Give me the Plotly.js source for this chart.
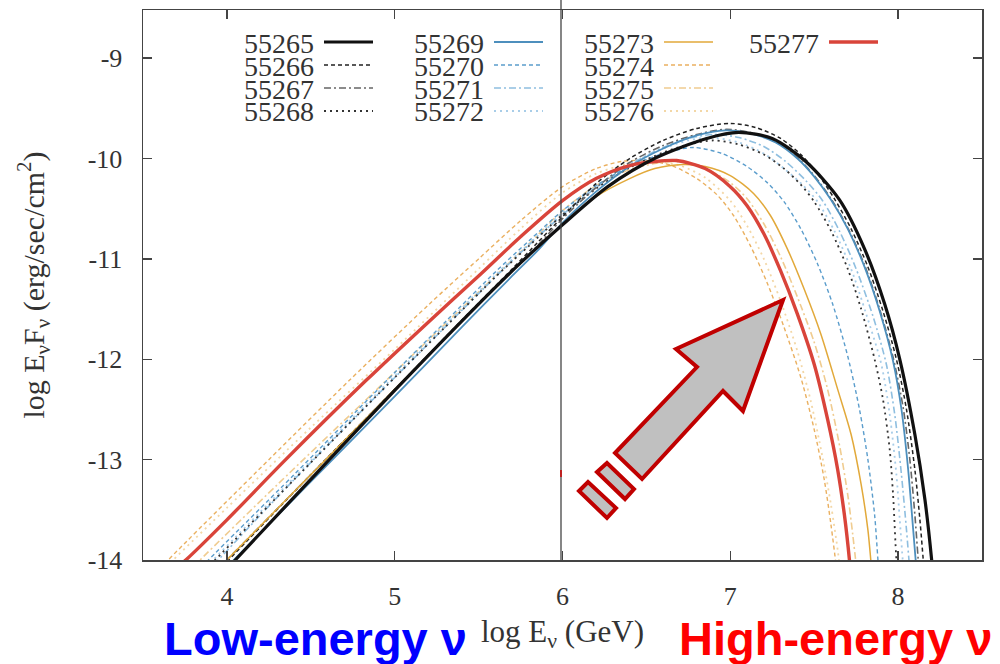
<!DOCTYPE html>
<html>
<head>
<meta charset="utf-8">
<script src="https://cdn.plot.ly/plotly-3.0.1.min.js"></script>
<style>
  html, body { margin: 0; padding: 0; background: #fff; }
  #chart { width: 1000px; height: 664px; }
</style>
</head>
<body>
<div id="chart"></div>
<script>
// Neutrino SED per observation day (MJD): log E_nu F_nu vs log E_nu
const days = ["55265", "55266", "55267", "55268", "55269", "55270", "55271",
              "55272", "55273", "55274", "55275", "55276", "55277"];

const x55265 = [4.0, 4.05, 4.61, 5.0, 5.5, 5.75, 6.0, 6.27, 6.56, 6.86, 7.05, 7.25, 7.45, 7.65, 7.8, 7.92, 8.01, 8.1, 8.16, 8.2, 8.22];
const y55265 = [-14.09, -14.0, -13.0, -12.31, -11.45, -11.04, -10.66, -10.28, -9.99, -9.8, -9.74, -9.8, -10.03, -10.41, -10.9, -11.45, -12.0, -12.75, -13.4, -14.0, -14.4];

const x55266 = [3.97, 4.5, 5.0, 5.4, 5.7, 5.85, 6.0, 6.2, 6.4, 6.6, 6.8, 7.0, 7.15, 7.3, 7.42, 7.52, 7.62, 7.72, 7.82, 7.91, 7.99, 8.05, 8.1, 8.13, 8.15, 8.17];
const y55266 = [-14.07, -13.15, -12.3, -11.61, -11.1, -10.84, -10.58, -10.25, -10.0, -9.82, -9.7, -9.65, -9.69, -9.8, -9.96, -10.15, -10.4, -10.7, -11.08, -11.52, -12.0, -12.5, -13.1, -13.6, -14.0, -14.4];

const x55267 = [3.97, 4.5, 5.0, 5.4, 5.7, 5.85, 6.0, 6.2, 6.4, 6.6, 6.8, 6.97, 7.12, 7.27, 7.4, 7.5, 7.6, 7.7, 7.8, 7.89, 7.97, 8.03, 8.07, 8.1, 8.12, 8.14];
const y55267 = [-14.05, -13.15, -12.3, -11.62, -11.12, -10.87, -10.6, -10.29, -10.04, -9.87, -9.76, -9.71, -9.74, -9.83, -9.99, -10.17, -10.4, -10.69, -11.06, -11.5, -11.98, -12.48, -13.0, -13.55, -14.0, -14.4];

const x55268 = [3.9, 4.4, 4.9, 5.3, 5.6, 5.8, 6.0, 6.2, 6.4, 6.6, 6.75, 6.9, 7.05, 7.2, 7.32, 7.42, 7.5, 7.6, 7.7, 7.78, 7.86, 7.91, 7.95, 7.97, 7.99, 8.01];
const y55268 = [-14.05, -13.2, -12.35, -11.68, -11.18, -10.87, -10.56, -10.3, -10.09, -9.94, -9.86, -9.82, -9.86, -9.96, -10.1, -10.26, -10.43, -10.72, -11.1, -11.5, -12.0, -12.4, -12.9, -13.35, -14.0, -14.4];

const x55269 = [4.0, 4.5, 5.0, 5.4, 5.7, 5.85, 6.0, 6.2, 6.4, 6.6, 6.8, 6.97, 7.12, 7.27, 7.4, 7.5, 7.6, 7.7, 7.8, 7.89, 7.97, 8.02, 8.06, 8.09, 8.11, 8.13];
const y55269 = [-14.07, -13.22, -12.37, -11.68, -11.17, -10.92, -10.64, -10.33, -10.08, -9.9, -9.77, -9.72, -9.75, -9.84, -10.0, -10.18, -10.41, -10.7, -11.08, -11.52, -12.02, -12.5, -13.1, -13.7, -14.1, -14.4];

const x55270 = [3.85, 3.89, 4.4, 4.9, 5.3, 5.6, 5.8, 6.0, 6.2, 6.4, 6.6, 6.78, 6.95, 7.1, 7.22, 7.32, 7.42, 7.52, 7.61, 7.7, 7.77, 7.82, 7.86, 7.88, 7.9];
const y55270 = [-14.07, -14.0, -13.15, -12.3, -11.63, -11.13, -10.82, -10.52, -10.27, -10.08, -9.95, -9.89, -9.95, -10.08, -10.24, -10.43, -10.7, -11.05, -11.45, -11.97, -12.5, -13.0, -13.55, -14.0, -14.4];

const x55271 = [3.92, 4.4, 4.9, 5.3, 5.6, 5.8, 6.0, 6.2, 6.4, 6.6, 6.75, 6.9, 7.05, 7.2, 7.33, 7.45, 7.55, 7.65, 7.75, 7.85, 7.93, 7.98, 8.02, 8.05, 8.07, 8.09];
const y55271 = [-14.05, -13.2, -12.35, -11.68, -11.18, -10.86, -10.56, -10.29, -10.06, -9.89, -9.8, -9.76, -9.79, -9.88, -10.03, -10.22, -10.42, -10.72, -11.1, -11.57, -12.05, -12.55, -13.15, -13.7, -14.1, -14.4];

const x55272 = [3.9, 4.4, 4.9, 5.3, 5.6, 5.8, 6.0, 6.2, 6.4, 6.6, 6.75, 6.88, 7.05, 7.2, 7.32, 7.43, 7.52, 7.62, 7.72, 7.81, 7.9, 7.95, 7.99, 8.01, 8.03, 8.05];
const y55272 = [-14.03, -13.18, -12.33, -11.66, -11.16, -10.85, -10.54, -10.28, -10.06, -9.9, -9.82, -9.79, -9.84, -9.95, -10.1, -10.26, -10.43, -10.72, -11.1, -11.55, -12.05, -12.55, -13.15, -13.6, -14.05, -14.4];

const x55273 = [3.97, 4.5, 5.0, 5.4, 5.7, 5.85, 6.0, 6.2, 6.4, 6.55, 6.72, 6.85, 7.0, 7.14, 7.24, 7.34, 7.44, 7.54, 7.64, 7.72, 7.78, 7.82, 7.84, 7.86];
const y55273 = [-14.05, -13.15, -12.3, -11.62, -11.12, -10.88, -10.66, -10.38, -10.2, -10.1, -10.06, -10.08, -10.17, -10.35, -10.57, -10.9, -11.3, -11.75, -12.3, -12.75, -13.25, -13.7, -14.05, -14.4];

const x55274 = [3.6, 3.65, 4.25, 4.73, 5.2, 5.5, 5.75, 6.0, 6.2, 6.35, 6.5, 6.65, 6.8, 6.92, 7.02, 7.12, 7.22, 7.32, 7.42, 7.5, 7.56, 7.6, 7.63, 7.65];
const y55274 = [-14.09, -14.0, -13.0, -12.21, -11.46, -11.0, -10.62, -10.28, -10.1, -10.03, -10.02, -10.07, -10.2, -10.36, -10.57, -10.87, -11.24, -11.68, -12.18, -12.7, -13.2, -13.65, -14.05, -14.4];

const x55275 = [3.8, 3.84, 4.3, 4.8, 5.3, 5.6, 5.8, 6.0, 6.2, 6.4, 6.55, 6.68, 6.85, 7.0, 7.1, 7.2, 7.3, 7.4, 7.5, 7.58, 7.65, 7.7, 7.73, 7.76];
const y55275 = [-14.07, -14.0, -13.25, -12.45, -11.65, -11.17, -10.85, -10.52, -10.27, -10.11, -10.05, -10.03, -10.1, -10.24, -10.4, -10.65, -10.98, -11.38, -11.83, -12.3, -12.85, -13.35, -13.75, -14.2];

const x55276 = [3.64, 3.68, 4.0, 4.5, 5.0, 5.5, 5.75, 6.0, 6.2, 6.4, 6.55, 6.7, 6.85, 7.0, 7.1, 7.2, 7.3, 7.4, 7.48, 7.55, 7.6, 7.64, 7.67];
const y55276 = [-14.07, -14.0, -13.48, -12.68, -11.9, -11.1, -10.7, -10.34, -10.15, -10.05, -10.03, -10.07, -10.19, -10.42, -10.67, -11.0, -11.42, -11.92, -12.42, -12.98, -13.45, -13.9, -14.3];

const x55277 = [3.72, 3.755, 4.0, 4.35, 4.83, 5.2, 5.5, 5.75, 6.0, 6.2, 6.4, 6.55, 6.68, 6.85, 7.0, 7.1, 7.2, 7.3, 7.4, 7.5, 7.58, 7.64, 7.68, 7.71, 7.73];
const y55277 = [-14.05, -14.0, -13.6, -13.0, -12.21, -11.63, -11.17, -10.78, -10.42, -10.2, -10.07, -10.03, -10.02, -10.1, -10.28, -10.47, -10.75, -11.12, -11.55, -12.05, -12.6, -13.1, -13.55, -14.0, -14.4];

const xTicks = [4, 5, 6, 7, 8];
const yTicks = [-9, -10, -11, -12, -13, -14];

// line style per day
const styles = {
  "55265": { color: "#111111", width: 3.2, dash: "solid" },
  "55266": { color: "#222222", width: 1.5, dash: "4px,3px" },
  "55267": { color: "#666666", width: 1.6, dash: "7px,3px,2px,3px" },
  "55268": { color: "#333333", width: 1.8, dash: "2px,4px" },
  "55269": { color: "#4d8fbd", width: 1.8, dash: "solid" },
  "55270": { color: "#5b9dcc", width: 1.4, dash: "4px,3px" },
  "55271": { color: "#8fbfe0", width: 1.6, dash: "7px,3px,2px,3px" },
  "55272": { color: "#a8cde8", width: 1.8, dash: "2px,4px" },
  "55273": { color: "#e2a93a", width: 1.5, dash: "solid" },
  "55274": { color: "#eab060", width: 1.4, dash: "4px,3px" },
  "55275": { color: "#f0cc90", width: 1.6, dash: "7px,3px,2px,3px" },
  "55276": { color: "#f3d7a6", width: 1.8, dash: "2px,4px" },
  "55277": { color: "#d9443a", width: 3.4, dash: "solid" }
};

const seriesX = { "55265": x55265, "55266": x55266, "55267": x55267, "55268": x55268,
  "55269": x55269, "55270": x55270, "55271": x55271, "55272": x55272, "55273": x55273,
  "55274": x55274, "55275": x55275, "55276": x55276, "55277": x55277 };
const seriesY = { "55265": y55265, "55266": y55266, "55267": y55267, "55268": y55268,
  "55269": y55269, "55270": y55270, "55271": y55271, "55272": y55272, "55273": y55273,
  "55274": y55274, "55275": y55275, "55276": y55276, "55277": y55277 };

// draw lighter lines first, heavy solid lines on top
const drawOrder = ["55276", "55275", "55274", "55272", "55271", "55270", "55268",
                   "55267", "55266", "55273", "55269", "55277", "55265"];

const traces = drawOrder.map(d => ({
  type: "scatter", mode: "lines", name: d,
  x: seriesX[d], y: seriesY[d],
  line: { color: styles[d].color, width: styles[d].width, dash: styles[d].dash,
          shape: "spline", smoothing: 0.8 },
  hoverinfo: "x+y+name", showlegend: false
}));

// pixel helpers for the page overlays (plot area 143..982 x 10..560)
const L = 143, R = 982, T = 10, B = 560;
const px = p => (p - L) / (R - L);
const py = p => (B - p) / (B - T);

const serif = "Liberation Serif";
const shapes = [];
const annotations = [];

// key in four columns: label then line sample
const keyCols = [
  { textRight: 316, lineFrom: 324, items: ["55265", "55266", "55267", "55268"] },
  { textRight: 486, lineFrom: 494, items: ["55269", "55270", "55271", "55272"] },
  { textRight: 656, lineFrom: 664, items: ["55273", "55274", "55275", "55276"] },
  { textRight: 821, lineFrom: 829, items: ["55277"] }
];
const keyRows = [42, 65, 88, 111];
keyCols.forEach(col => {
  col.items.forEach((d, i) => {
    annotations.push({
      xref: "paper", yref: "paper", x: px(col.textRight), y: py(keyRows[i] + 1),
      xanchor: "right", yanchor: "middle", showarrow: false, text: d,
      font: { family: serif, size: 28, color: "#333" }
    });
    shapes.push({
      type: "line", xref: "paper", yref: "paper",
      x0: px(col.lineFrom), x1: px(col.lineFrom + 49), y0: py(keyRows[i]), y1: py(keyRows[i]),
      line: { color: styles[d].color, width: styles[d].width, dash: styles[d].dash }
    });
  });
});

// vertical marker line near log E = 6, with its small red tick
shapes.push({
  type: "line", xref: "paper", yref: "paper",
  x0: px(561), x1: px(561), y0: 0, y1: py(0),
  line: { color: "#444", width: 1.3 }
});
shapes.push({
  type: "line", xref: "paper", yref: "paper",
  x0: px(561), x1: px(561), y0: py(477), y1: py(470),
  line: { color: "#d00000", width: 1.5 }
});

// block arrow pointing towards higher energies
const pathFrom = pts => "M " + pts.map(p => px(p[0]).toFixed(4) + "," + py(p[1]).toFixed(4)).join(" L ") + " Z";
const arrowStyle = { fillcolor: "#c0c0c0", line: { color: "#c00000", width: 4 } };
shapes.push(Object.assign({
  type: "path", xref: "paper", yref: "paper",
  path: pathFrom([[783, 300], [743, 411], [723, 391], [642, 479], [615, 453], [697, 367], [676, 349]])
}, arrowStyle));
shapes.push(Object.assign({
  type: "path", xref: "paper", yref: "paper",
  path: pathFrom([[597, 472], [607, 463], [634, 489], [625, 499]])
}, arrowStyle));
shapes.push(Object.assign({
  type: "path", xref: "paper", yref: "paper",
  path: pathFrom([[579, 491], [588, 482], [616, 508], [607, 518]])
}, arrowStyle));

// labels under the axis
annotations.push({
  xref: "paper", yref: "paper", x: px(162), y: py(638), xanchor: "left", yanchor: "middle",
  showarrow: false, text: "Low-energy ν",
  font: { family: "Liberation Sans", size: 47, color: "#0000ff", weight: "bold" }
});
annotations.push({
  xref: "paper", yref: "paper", x: px(677), y: py(638), xanchor: "left", yanchor: "middle",
  showarrow: false, text: "High-energy ν",
  font: { family: "Liberation Sans", size: 47, color: "#ff0000", weight: "bold" }
});

const axisCommon = {
  showgrid: false, zeroline: false,
  showline: true, linecolor: "#444", linewidth: 1.5, mirror: "ticks",
  ticks: "inside", ticklen: 9, tickwidth: 1.5, tickcolor: "#444",
  tickfont: { family: serif, size: 26, color: "#333" }
};

const layout = {
  width: 1000, height: 664,
  margin: { l: L, r: 1000 - R, t: T, b: 664 - B },
  paper_bgcolor: "#fff", plot_bgcolor: "#fff",
  showlegend: false,
  xaxis: Object.assign({}, axisCommon, {
    range: [3.5, 8.5], tickvals: xTicks, ticktext: xTicks.map(String),
    ticklabelstandoff: 12,
    title: { text: "log E<sub>ν</sub> (GeV)", font: { family: serif, size: 31, color: "#333" }, standoff: 10 }
  }),
  yaxis: Object.assign({}, axisCommon, {
    range: [-14, -8.52], tickvals: yTicks, ticktext: yTicks.map(String),
    ticklabelstandoff: 14,
    title: { text: "log E<sub>ν</sub>F<sub>ν</sub> (erg/sec/cm<sup>2</sup>)", font: { family: serif, size: 30, color: "#333" }, standoff: 34 }
  }),
  shapes: shapes,
  annotations: annotations
};

Plotly.newPlot("chart", traces, layout, { staticPlot: true, displayModeBar: false });
</script>
</body>
</html>
